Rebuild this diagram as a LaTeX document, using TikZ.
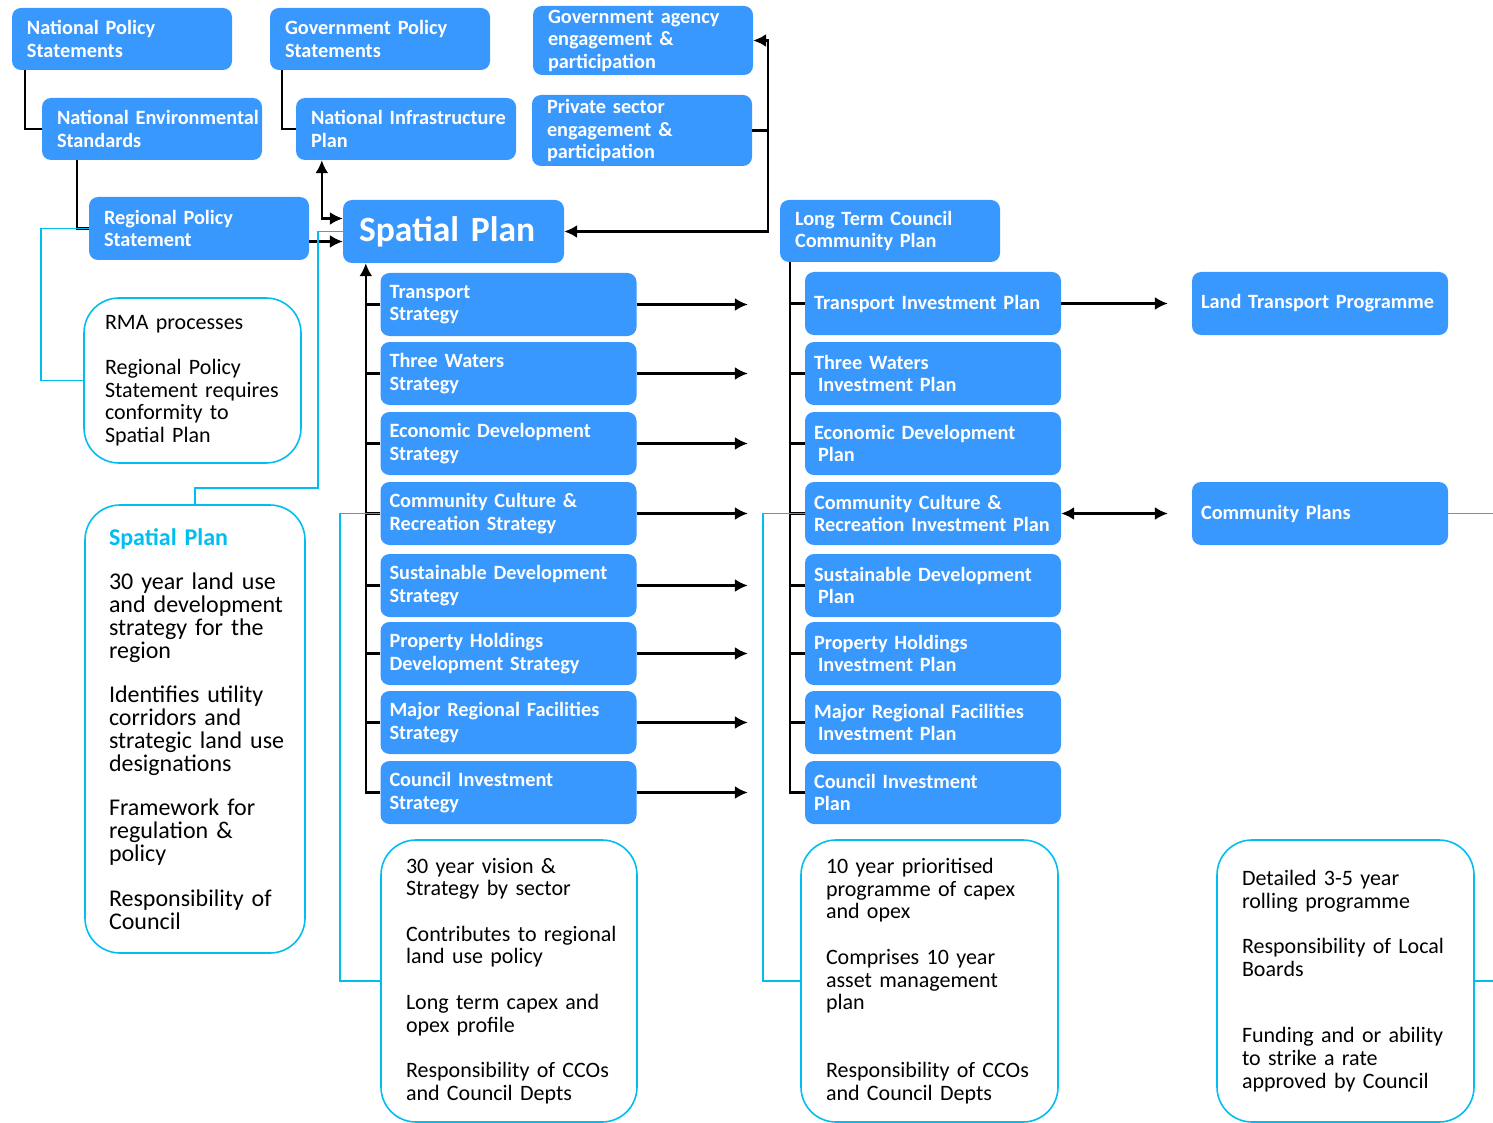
\documentclass[tikz,border=0pt]{standalone}
\usepackage{fontspec}
\setmainfont{Carlito}
\usetikzlibrary{arrows.meta}
\definecolor{boxblue}{RGB}{57,152,254}
\definecolor{linkcyan}{RGB}{0,190,240}

\tikzset{
  topbox/.style={fill=boxblue, rounded corners=9pt, text=white, align=left,
    font=\fontsize{20.3pt}{22.5pt}\selectfont\bfseries,
    inner xsep=15pt, inner ysep=0pt, text width=190pt, minimum height=62pt},
  rowbox/.style={fill=boxblue, rounded corners=9pt, text=white, align=left,
    font=\fontsize{20.3pt}{22.5pt}\selectfont\bfseries,
    inner xsep=9pt, inner ysep=0pt, text width=238pt, minimum height=63pt},
  note/.style={draw=linkcyan, line width=1.6pt, fill=white, rounded corners=35pt,
    align=left, font=\fontsize{22pt}{22.7pt}\selectfont, inner xsep=25pt, inner ysep=0pt},
  tree/.style={line width=2.2pt},
  link/.style={draw=linkcyan, line width=1.6pt},
}

\begin{document}
\begin{tikzpicture}[x=1pt,y=-1pt,>={Latex[length=13pt,width=13pt]}]
\useasboundingbox (0,0) rectangle (1493,1123);

% national and regional inputs
\node[topbox] (nps) at (122,39) {National Policy\\Statements};
\node[topbox] (gps) at (380,39) {Government Policy\\Statements};
\node[topbox, minimum height=69pt] (gae) at (643,40.5) {Government agency\\engagement \&\\participation};
\node[topbox] (nes) at (152,129) {\mbox{National Environmental}\\Standards};
\node[topbox] (nip) at (406,129) {\mbox{National Infrastructure}\\Plan};
\node[topbox, minimum height=71pt] (pse) at (642,130.5) {Private sector\\engagement \&\\participation};
\node[topbox, minimum height=63pt] (rps) at (199,228.5) {Regional Policy\\Statement};
\node[topbox, minimum height=63pt, text width=189pt, inner xsep=16pt,
  font=\fontsize{35.5pt}{36pt}\selectfont\bfseries] (sp) at (453.5,231.5) {Spatial Plan};
\node[topbox] (ltccp) at (890,231) {Long Term Council\\Community Plan};

% strategies
\node[rowbox] (ts) at (508.5,304.5) {Transport\\Strategy};
\node[rowbox] (tws) at (508.5,373.5) {Three Waters\\Strategy};
\node[rowbox] (eds) at (508.5,443.5) {Economic Development\\Strategy};
\node[rowbox] (ccs) at (508.5,513.5) {Community Culture \&\\Recreation Strategy};
\node[rowbox] (sds) at (508.5,585.5) {Sustainable Development\\Strategy};
\node[rowbox] (phs) at (508.5,653.5) {Property Holdings\\Development Strategy};
\node[rowbox] (mrs) at (508.5,722.5) {Major Regional Facilities\\Strategy};
\node[rowbox] (cis) at (508.5,792.5) {Council Investment\\Strategy};

% plans
\node[rowbox] (tip) at (933,303.5) {Transport Investment Plan};
\node[rowbox] (twp) at (933,373.5) {Three Waters\\\hspace*{4pt}Investment Plan};
\node[rowbox] (edp) at (933,443.5) {Economic Development\\\hspace*{4pt}Plan};
\node[rowbox] (ccp) at (933,513.5) {Community Culture \&\\\mbox{Recreation Investment Plan}};
\node[rowbox] (sdp) at (933,585.5) {Sustainable Development\\\hspace*{4pt}Plan};
\node[rowbox] (php) at (933,653.5) {Property Holdings\\\hspace*{4pt}Investment Plan};
\node[rowbox] (mrp) at (933,722.5) {Major Regional Facilities\\\hspace*{4pt}Investment Plan};
\node[rowbox] (cip) at (933,792.5) {Council Investment\\Plan};

\node[rowbox] (ltp) at (1320,303.5) {Land Transport Programme};
\node[rowbox] (cp) at (1320,513.5) {Community Plans};

% notes
\node[note, minimum height=165pt, inner xsep=21pt, text width=175pt] (rma) at (192.5,380.5)
  {RMA processes\\[22.7pt]Regional Policy\\\mbox{Statement requires}\\conformity to\\Spatial Plan};
\node[note, text width=172pt, inner xsep=24pt, minimum height=448pt, font=\fontsize{24pt}{23pt}\selectfont] (spc) at (195,729)
  {{\color{linkcyan}\bfseries\fontsize{24pt}{23pt}\selectfont Spatial Plan}\\[21pt]
   \mbox{30 year land use}\\\mbox{and development}\\\mbox{strategy for the}\\region\\[21pt]
   \mbox{Identifies utility}\\corridors and\\\mbox{strategic land use}\\designations\\[21pt]
   Framework for\\regulation \&\\policy\\[22pt]
   \mbox{Responsibility of}\\Council};
\node[note, text width=206pt, minimum height=282pt] (stc) at (509,981)
  {30 year vision \&\\Strategy by sector\\[22.7pt]
   \mbox{Contributes to regional}\\land use policy\\[22.7pt]
   \mbox{Long term capex and}\\opex profile\\[23pt]
   \mbox{Responsibility of CCOs}\\and Council Depts};
\node[note, text width=207pt, minimum height=282pt] (plc) at (929.5,981)
  {10 year prioritised\\\mbox{programme of capex}\\and opex\\[23pt]
   Comprises 10 year\\asset management\\plan\\[45pt]
   \mbox{Responsibility of CCOs}\\and Council Depts};
\node[note, text width=207pt, minimum height=282pt] (cpc) at (1345.5,981)
  {Detailed 3-5 year\\rolling programme\\[22.7pt]
   \mbox{Responsibility of Local}\\Boards\\[44pt]
   \mbox{Funding and or ability}\\to strike a rate\\\mbox{approved by Council}};

% black connectors
\coordinate (bus) at ([xshift=16pt]pse.east);
\coordinate (strk) at ([xshift=23pt]sp.south west);
\coordinate (ptrk) at ([xshift=10pt]ltccp.south west);
\draw[tree] ([xshift=13pt]nps.south west) |- (nes.west);
\draw[tree] ([xshift=35pt]nes.south west) |- (rps.west);
\draw[tree] ([xshift=12pt]gps.south west) |- (nip.west);
\draw[tree,<->] ([xshift=26pt]nip.south west) |- ([yshift=13pt]sp.west);
\draw[tree,->] ([yshift=-13pt]rps.east) -- ([yshift=-13pt]rps.east -| sp.west);
\draw[tree] (pse.east) -- (bus);
\draw[tree,->] (bus) |- (gae.east);
\draw[tree,->] (bus) |- (sp.east);

\draw[tree,->] (cis.west) -| (strk);
\draw[tree] (ts.west) -- (ts.west -| strk);
\draw[tree] (tws.west) -- (tws.west -| strk);
\draw[tree] (eds.west) -- (eds.west -| strk);
\draw[tree] (ccs.west) -- (ccs.west -| strk);
\draw[tree] (sds.west) -- (sds.west -| strk);
\draw[tree] (phs.west) -- (phs.west -| strk);
\draw[tree] (mrs.west) -- (mrs.west -| strk);

\draw[tree] (ptrk) |- (cip.west);
\draw[tree] (tip.west) -- (tip.west -| ptrk);
\draw[tree] (twp.west) -- (twp.west -| ptrk);
\draw[tree] (edp.west) -- (edp.west -| ptrk);
\draw[tree] (ccp.west) -- (ccp.west -| ptrk);
\draw[tree] (sdp.west) -- (sdp.west -| ptrk);
\draw[tree] (php.west) -- (php.west -| ptrk);
\draw[tree] (mrp.west) -- (mrp.west -| ptrk);

\draw[tree,->,shorten >=42pt] (ts.east) -- (ts.east -| ptrk);
\draw[tree,->,shorten >=42pt] (tws.east) -- (tws.east -| ptrk);
\draw[tree,->,shorten >=42pt] (eds.east) -- (eds.east -| ptrk);
\draw[tree,->,shorten >=42pt] (ccs.east) -- (ccs.east -| ptrk);
\draw[tree,->,shorten >=42pt] (sds.east) -- (sds.east -| ptrk);
\draw[tree,->,shorten >=42pt] (phs.east) -- (phs.east -| ptrk);
\draw[tree,->,shorten >=42pt] (mrs.east) -- (mrs.east -| ptrk);
\draw[tree,->,shorten >=42pt] (cis.east) -- (cis.east -| ptrk);

\draw[tree,->,shorten >=24pt] (tip.east) -- (ltp.west);
\draw[tree,<->,shorten >=24pt] (ccp.east) -- (cp.west);

% cyan links to notes
\coordinate (spbend) at (318,488);
\coordinate (offr) at (1500,700);
\draw[link] (rps.west) -| ([xshift=-42pt]rma.west) -- (rma.west);
\draw[link] (sp.west) -| (spbend) -| (spc.north);
\draw[link] (ccs.west) -| ([xshift=-40pt]stc.west) -- (stc.west);
\draw[link] (ccp.west) -| ([xshift=-37pt]plc.west) -- (plc.west);
\draw[link] (cp.east) -| (offr) |- (cpc.east);
\end{tikzpicture}
\end{document}
